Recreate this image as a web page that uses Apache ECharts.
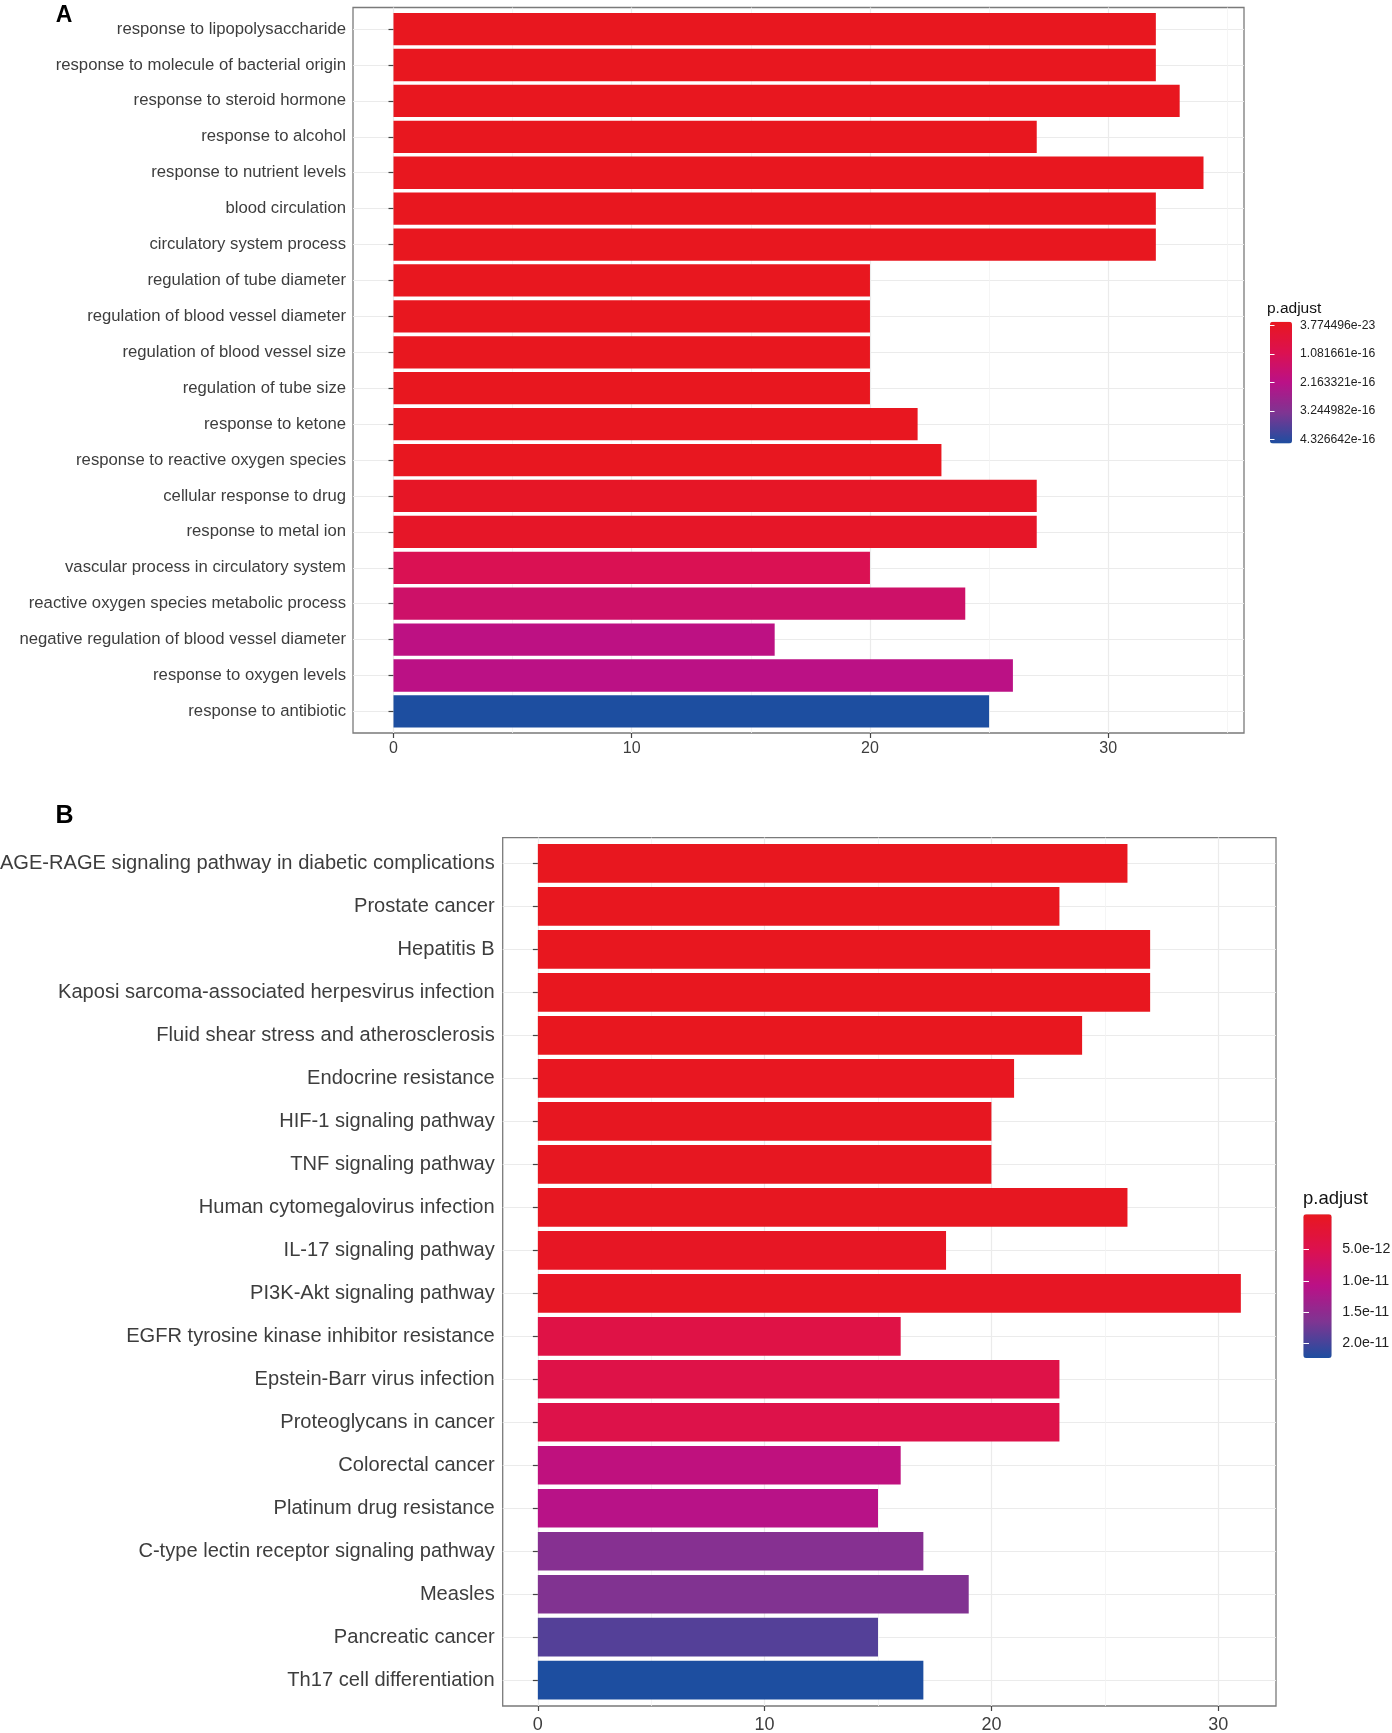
<!DOCTYPE html>
<html><head><meta charset="utf-8">
<script src="https://cdn.jsdelivr.net/npm/echarts/dist/echarts.min.js"></script>
<style>html,body{margin:0;padding:0;background:#fff}#c{width:1392px;height:1733px}</style>
</head><body><div id="c"></div>
<script>
// ---------- Panel A data ----------
const catsA = [
  'response to lipopolysaccharide','response to molecule of bacterial origin','response to steroid hormone',
  'response to alcohol','response to nutrient levels','blood circulation','circulatory system process',
  'regulation of tube diameter','regulation of blood vessel diameter','regulation of blood vessel size',
  'regulation of tube size','response to ketone','response to reactive oxygen species','cellular response to drug',
  'response to metal ion','vascular process in circulatory system','reactive oxygen species metabolic process',
  'negative regulation of blood vessel diameter','response to oxygen levels','response to antibiotic'];
const countA = [32,32,33,27,34,32,32,20,20,20,20,22,23,27,27,20,24,16,26,25];
const padjA = [3.774496e-23,7.5e-23,1.2e-22,2.6e-21,3.1e-21,8.4e-21,9.0e-21,6.2e-20,6.2e-20,8.8e-20,
  8.8e-20,1.5e-18,2.4e-18,1.6e-17,2.0e-17,1.15e-16,1.55e-16,2.08e-16,2.12e-16,4.326642e-16];
const xTicksA = [0,10,20,30];
const xMinorA = [5,15,25,35];
const legendTicksA = [3.774496e-23,1.081661e-16,2.163321e-16,3.244982e-16,4.326642e-16];

// ---------- Panel B data ----------
const catsB = [
  'AGE-RAGE signaling pathway in diabetic complications','Prostate cancer','Hepatitis B',
  'Kaposi sarcoma-associated herpesvirus infection','Fluid shear stress and atherosclerosis','Endocrine resistance',
  'HIF-1 signaling pathway','TNF signaling pathway','Human cytomegalovirus infection','IL-17 signaling pathway',
  'PI3K-Akt signaling pathway','EGFR tyrosine kinase inhibitor resistance','Epstein-Barr virus infection',
  'Proteoglycans in cancer','Colorectal cancer','Platinum drug resistance','C-type lectin receptor signaling pathway',
  'Measles','Pancreatic cancer','Th17 cell differentiation'];
const countB = [26,23,27,27,24,21,20,20,26,18,31,16,23,23,16,15,17,19,15,17];
const padjB = [1.3e-14,2.1e-14,2.2e-14,4.6e-14,6.3e-14,1.9e-13,2.6e-13,2.6e-13,2.8e-13,5.2e-13,
  5.9e-13,4.3e-12,4.6e-12,4.8e-12,1.0e-11,1.1e-11,1.56e-11,1.6e-11,1.86e-11,2.17e-11];
const xTicksB = [0,10,20,30];
const xMinorB = [5,15,25];
const legendTicksB = [5e-12,1e-11,1.5e-11,2e-11];

const ramp = ['#E8171F','#DC1150','#BA1187','#7E3592','#1D4EA0'];
const FONT = '"Liberation Sans", Arial, Helvetica, sans-serif';
const LAB = '#3d3d3d';

// geometry
const A = {left:353, top:7.5, width:891, height:725.5, xmin:-1.7, xmax:35.7};
const B = {left:502.7, top:837.6, width:773.3, height:868.4, xmin:-1.55, xmax:32.55};
function unit(P){return P.height/20.2;}

function frameX(P, grid, ticks, fs, margin){
  return {
    gridIndex:grid, type:'value', min:P.xmin, max:P.xmax, position:'bottom',
    axisLine:{show:false},
    axisTick:{show:true, length:5, lineStyle:{color:'#444', width:1.2}, customValues:ticks},
    axisLabel:{show:true, customValues:ticks, fontSize:fs, color:LAB, margin:margin, fontFamily:FONT},
    splitLine:{show:true, lineStyle:{color:'#EBEBEB', width:1.2}}
  };
}
function minorX(P, grid, ticks){
  return {gridIndex:grid, type:'value', min:P.xmin, max:P.xmax, position:'top',
    axisLine:{show:false}, axisTick:{show:true, length:0, customValues:ticks},
    axisLabel:{show:false}, splitLine:{show:true, lineStyle:{color:'#F3F3F3', width:0.8}}};
}

const u1 = unit(A), u2 = unit(B);
const grids = [
  {left:A.left, top:A.top, width:A.width, height:A.height, show:true, borderColor:'#7a7a7a', borderWidth:1.3, backgroundColor:'transparent'},
  {left:A.left, top:A.top+0.6*u1, width:A.width, height:19*u1},
  {left:B.left, top:B.top, width:B.width, height:B.height, show:true, borderColor:'#7a7a7a', borderWidth:1.3, backgroundColor:'transparent'},
  {left:B.left, top:B.top+0.6*u2, width:B.width, height:19*u2},
  {left:1270, top:325.7, width:22, height:113.7},
  {left:1303.3, top:1218.3, width:28.4, height:135.7}
].map(g=>Object.assign({containLabel:false, outerBoundsMode:'none'}, g));

const xAxes = [
  frameX(A,0,xTicksA,16,8), minorX(A,0,xMinorA),
  {gridIndex:1, type:'value', show:false, min:A.xmin, max:A.xmax},
  frameX(B,2,xTicksB,18,10), minorX(B,2,xMinorB),
  {gridIndex:3, type:'value', show:false, min:B.xmin, max:B.xmax},
  {gridIndex:4, type:'value', show:false, min:0, max:1},
  {gridIndex:5, type:'value', show:false, min:0, max:1}
];

function catY(grid, cats, fs, margin){
  return {gridIndex:grid, type:'category', data:cats, inverse:true, boundaryGap:false,
    axisLine:{show:false},
    axisTick:{show:true, length:5, lineStyle:{color:'#444', width:1.2}},
    axisLabel:{interval:0, fontSize:fs, color:LAB, margin:margin, fontFamily:FONT, padding:[4.5,0,0,0]},
    splitLine:{show:true, lineStyle:{color:'#EBEBEB', width:1.2}}};
}
function legY(grid, min, max, ticks, pos, showLab, fs, margin, fmt, tlen){
  return {gridIndex:grid, type:'value', position:pos, inverse:true, min:min, max:max, z:10,
    axisLine:{show:false},
    axisTick:{show:true, inside:true, length:tlen, lineStyle:{color:'#ffffff', width:1}, customValues:ticks},
    axisLabel:{show:showLab, customValues:ticks, fontSize:fs, color:'#222', margin:margin, fontFamily:FONT, formatter:fmt},
    splitLine:{show:false}};
}
const fmtA = v => Number(v).toExponential(6);
const fmtB = v => Number(v).toExponential(1);
const pminA = Math.min(...padjA), pmaxA = Math.max(...padjA);
const pminB = Math.min(...padjB), pmaxB = Math.max(...padjB);

const yAxes = [
  {gridIndex:0, type:'value', show:false, min:0, max:1},
  catY(1, catsA, 16.7, 7),
  {gridIndex:2, type:'value', show:false, min:0, max:1},
  catY(3, catsB, 20.1, 8),
  legY(4, pminA, pmaxA, legendTicksA, 'right', true, 12.2, 8, fmtA, 4.5),
  legY(4, pminA, pmaxA, legendTicksA, 'left', false, 12, 8, fmtA, 4.5),
  legY(5, pminB, pmaxB, legendTicksB, 'right', true, 14.2, 10.5, fmtB, 5.7),
  legY(5, pminB, pmaxB, legendTicksB, 'left', false, 14, 10, fmtB, 5.7)
];

const option = {
  animation:false,
  backgroundColor:'#fff',
  textStyle:{fontFamily:FONT},
  grid: grids,
  xAxis: xAxes,
  yAxis: yAxes,
  visualMap: [
    {type:'continuous', seriesIndex:0, dimension:2, min:pminA, max:pmaxA, inverse:true, calculable:false,
     hoverLink:false, orient:'vertical', left:1270, top:321.7, itemWidth:22, itemHeight:121.7, padding:0,
     inRange:{color:ramp}},
    {type:'continuous', seriesIndex:1, dimension:2, min:pminB, max:pmaxB, inverse:true, calculable:false,
     hoverLink:false, orient:'vertical', left:1303.3, top:1214.3, itemWidth:28.4, itemHeight:143.7, padding:0,
     inRange:{color:ramp}}
  ],
  series: [
    {type:'bar', xAxisIndex:2, yAxisIndex:1, barWidth:0.9*u1, encode:{x:0, y:1},
     data: catsA.map((c,i)=>[countA[i], i, padjA[i]])},
    {type:'bar', xAxisIndex:5, yAxisIndex:3, barWidth:0.9*u2, encode:{x:0, y:1},
     data: catsB.map((c,i)=>[countB[i], i, padjB[i]])}
  ],
  graphic: [
    {type:'text', x:64, y:16, style:{text:'A', fill:'#000', font:'bold 23px '+FONT, align:'center', verticalAlign:'middle'}},
    {type:'text', x:64.5, y:816, style:{text:'B', fill:'#000', font:'bold 25px '+FONT, align:'center', verticalAlign:'middle'}},
    {type:'text', x:1267, y:309, style:{text:'p.adjust', fill:'#111', font:'15.5px '+FONT, align:'left', verticalAlign:'middle'}},
    {type:'text', x:1303, y:1199, style:{text:'p.adjust', fill:'#111', font:'18.5px '+FONT, align:'left', verticalAlign:'middle'}}
  ]
};
const chart = echarts.init(document.getElementById('c'), null, {renderer:'canvas'});
chart.setOption(option);
</script>
</body></html>
